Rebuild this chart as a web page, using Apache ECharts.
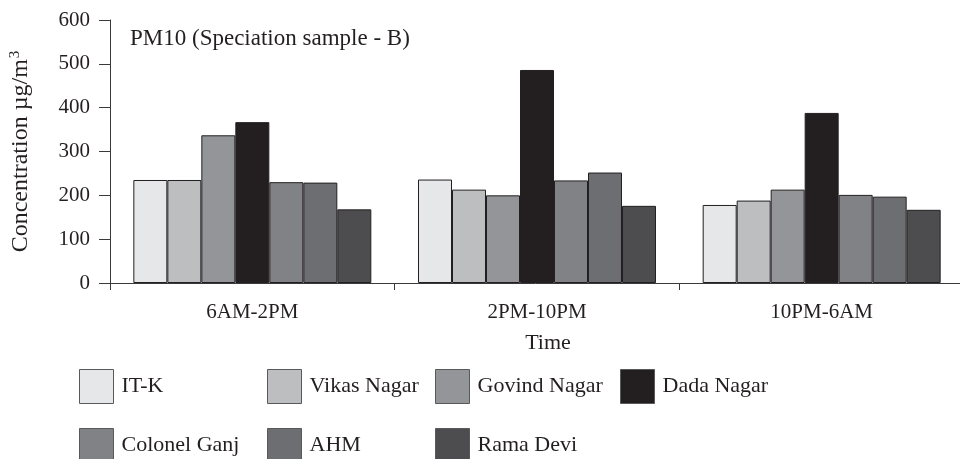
<!DOCTYPE html>
<html>
<head>
<meta charset="utf-8">
<script src="https://cdn.jsdelivr.net/npm/echarts@6/dist/echarts.min.js"></script>
<style>html,body{margin:0;padding:0;background:#fff}#c{width:960px;height:459px}</style>
</head>
<body>
<div id="c"></div>
<script>
const categories = ['6AM-2PM', '2PM-10PM', '10PM-6AM'];
const seriesNames = ['IT-K', 'Vikas Nagar', 'Govind Nagar', 'Dada Nagar', 'Colonel Ganj', 'AHM', 'Rama Devi'];
const itk = [235, 236, 178];
const vikasNagar = [235, 213, 188];
const govindNagar = [337, 200, 213];
const dadaNagar = [367, 486, 388];
const colonelGanj = [230, 234, 201];
const ahm = [229, 252, 197];
const ramaDevi = [168, 176, 167];
const yTicks = [0, 100, 200, 300, 400, 500, 600];

const values = [itk, vikasNagar, govindNagar, dadaNagar, colonelGanj, ahm, ramaDevi];
const colors = ['#e6e7e8', '#bcbec0', '#939598', '#231f20', '#808285', '#6d6e71', '#4d4d4f'];
const font = 'Liberation Serif';
const ink = '#231f20';
const legendPos = [[79, 369], [267, 369], [435, 369], [620, 369], [79, 428], [267, 428], [435, 428]];

const chart = echarts.init(document.getElementById('c'));
chart.setOption({
  animation: false,
  backgroundColor: '#fff',
  textStyle: { fontFamily: font, color: ink },
  title: {
    text: 'PM10 (Speciation sample - B)',
    left: 125, top: 22,
    textStyle: { fontFamily: font, fontSize: 23, fontWeight: 'normal', color: ink }
  },
  legend: seriesNames.map((n, i) => ({
    data: [n],
    left: legendPos[i][0], top: legendPos[i][1],
    padding: 0,
    itemWidth: 34, itemHeight: 34, itemGap: 0,
    icon: 'rect',
    textStyle: { fontFamily: font, fontSize: 22, color: ink, padding: [0, 0, 0, 3] },
    itemStyle: { borderColor: '#58595b', borderWidth: 1 }
  })),
  grid: { left: 110, right: -4, top: 20, bottom: 176, containLabel: false, outerBoundsMode: 'none' },
  xAxis: {
    type: 'category', data: categories,
    name: 'Time', nameLocation: 'middle', nameGap: 49,
    nameTextStyle: { fontFamily: font, fontSize: 22, color: ink, padding: [0, 0, 0, 22] },
    axisLine: { lineStyle: { color: '#3a3a3c', width: 1 } },
    axisTick: { show: true, length: 7, lineStyle: { color: '#3a3a3c' } },
    axisLabel: { fontFamily: font, fontSize: 21, color: ink, margin: 19 }
  },
  yAxis: {
    type: 'value', min: 0, max: 600, interval: 100,
    name: '{a|Concentration µg/m}{s|3}', nameLocation: 'middle', nameGap: 77,
    nameTextStyle: {
      rich: {
        a: { fontFamily: font, fontSize: 24, color: ink },
        s: { fontFamily: font, fontSize: 15, color: ink, verticalAlign: 'top', padding: [0, 0, 10, 1] }
      }
    },
    axisLine: { show: true, lineStyle: { color: '#3a3a3c', width: 1 } },
    axisTick: { show: true, length: 11, lineStyle: { color: '#3a3a3c' } },
    splitLine: { show: false },
    axisLabel: {
      fontFamily: font, fontSize: 21, color: ink, margin: 20,
      formatter: v => yTicks.includes(v) ? String(v) : ''
    }
  },
  series: seriesNames.map((n, i) => ({
    name: n, type: 'bar', data: values[i],
    barGap: '0%', barCategoryGap: '16.4%',
    itemStyle: { color: colors[i], borderColor: ink, borderWidth: 1 }
  }))
});
</script>
</body>
</html>
